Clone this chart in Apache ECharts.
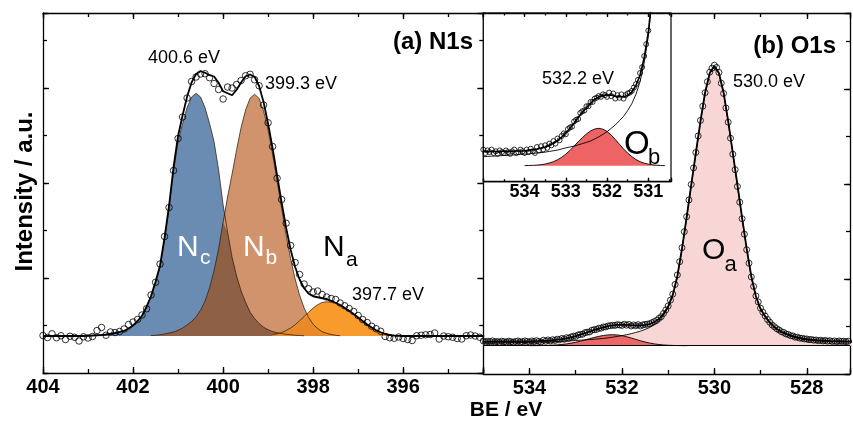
<!DOCTYPE html>
<html>
<head>
<meta charset="utf-8">
<title>XPS N1s / O1s</title>
<script src="https://cdn.jsdelivr.net/npm/echarts@6.0.0/dist/echarts.min.js"></script>
<style>
  html, body { margin: 0; padding: 0; background: #fff; }
  #chart { width: 853px; height: 425px; }
</style>
</head>
<body>
<div id="chart"></div>
<script>
// ---- (a) N1s : fitted components, 0.1 eV grid, intensity a.u. above baseline
var ncStart = 403.0;
var nc = [0.1, 0.2, 0.3, 0.4, 0.6, 0.9, 1.2, 1.6, 2.1, 2.9,
  4.2, 6.0, 8.1, 11.7, 15.8, 21.4, 27.7, 38.5, 50.9, 66.0,
  77.7, 85.0, 91.3, 95.6, 97.1, 95.6, 91.3, 85.0, 77.7, 66.5,
  52.5, 41.5, 31.5, 24.0, 18.0, 13.5, 9.5, 7.0, 5.0, 3.5,
  2.5, 1.8, 1.3, 1.0, 0.7, 0.5, 0.3, 0.2, 0.1];
var nbStart = 401.6;
var nb = [0.2, 0.3, 0.5, 0.8, 1.2, 1.6, 2.3, 3.2, 4.4, 5.8,
  7.7, 10.3, 14.0, 19.3, 26.1, 34.8, 45.4, 55.6, 64.8, 74.5,
  83.4, 90.4, 95.1, 96.7, 95.0, 90.0, 82.4, 72.7, 62.0, 51.0,
  40.4, 30.9, 22.8, 16.3, 11.2, 7.4, 4.7, 3.0, 1.7, 1.1,
  0.6, 0.3, 0.1];
var naStart = 398.9;
var na = [0.5, 0.9, 1.4, 2.2, 3.2, 4.5, 6.1, 7.8, 9.5, 11.2,
  12.5, 13.4, 13.7, 13.5, 13.0, 12.3, 11.3, 10.1, 8.8, 7.4,
  6.0, 4.6, 3.4, 2.3, 1.5, 0.8, 0.4, 0.15, 0.05];
var envNStart = 404.0;
var envN = [0, 0, 0, 0, 0, 0, 0, 0, 0, 0,
  0.1, 0.2, 0.3, 0.4, 0.6, 0.9, 1.2, 1.6, 2.1, 2.9,
  4.2, 6.0, 8.1, 11.7, 16.0, 21.7, 28.2, 39.3, 52.1, 67.6,
  80.0, 88.2, 95.7, 101.4, 104.8, 105.9, 105.3, 104.3, 103.8, 101.3,
  97.9, 97.1, 96.3, 98.5, 101.4, 103.9, 104.6, 103.7, 100.0, 93.5,
  84.9, 75.0, 64.2, 53.4, 43.3, 34.6, 27.6, 22.6, 19.1, 16.9,
  15.9, 15.5, 15.1, 14.8, 14.1, 13.3, 12.4, 11.3, 10.1, 8.8,
  7.4, 6.0, 4.6, 3.4, 2.3, 1.5, 0.8, 0.4, 0.15, 0.05,
  0, 0, 0, 0, 0, 0, 0, 0, 0, 0,
  0, 0, 0, 0, 0, 0, 0, 0, 0];
var dataNStart = 404.0;
var dataN = [0.2, -0.6, 0.9, -0.7, 0.1, -1.4, -0.1, -0.5, -2.0, -0.3,
  -0.8, -0.2, 2.2, 3.4, 0.3, 1.6, 1.4, 1.8, 2.8, 4.6,
  5.6, 6.6, 8.4, 10.9, 16.4, 21.5, 28.8, 39.8, 51.4, 66.2,
  79.0, 87.6, 95.2, 101.8, 103.6, 104.8, 104.9, 103.3, 101.0, 98.6,
  94.8, 99.6, 99.2, 100.6, 102.2, 104.1, 104.7, 102.5, 100.1, 92.4,
  85.3, 75.8, 63.1, 54.6, 45.1, 36.2, 29.4, 24.6, 20.8, 18.9,
  17.6, 18.0, 16.6, 15.6, 15.0, 14.6, 13.2, 12.1, 11.0, 9.8,
  8.2, 6.6, 5.4, 3.9, 2.9, 1.9, -0.2, -0.7, -0.9, -0.4,
  -1.0, -1.4, -1.8, 0.1, 0.3, 0.5, 0.6, 1.2, -1.2, 0.0,
  -0.3, -0.5, -1.0, -1.2, 0.1, 0.4, 0.0, -0.5];

// ---- (b) O1s : fitted components, 0.1 eV grid; measured points every 0.05 eV
var oaStart = 535.0;
var oa = [1.06, 1.09, 1.12, 1.14, 1.17, 1.20, 1.23, 1.26, 1.29, 1.32,
  1.35, 1.40, 1.45, 1.50, 1.55, 1.60, 1.68, 1.76, 1.84, 1.97,
  2.10, 2.20, 2.30, 2.45, 2.60, 2.75, 2.90, 3.15, 3.40, 3.70,
  4.0, 4.4, 4.8, 5.3, 5.8, 6.5, 7.3, 8.4, 9.9, 12.1,
  15.2, 20.0, 27.5, 38.5, 51.0, 64.0, 76.8, 89.5, 101.0, 108.8,
  111.6, 108.8, 101.0, 89.5, 76.8, 64.0, 51.0, 38.5, 27.5, 19.5,
  14.5, 11.5, 9.0, 7.2, 5.9, 4.9, 4.1, 3.5, 3.0, 2.6,
  2.3, 2.1, 1.95, 1.85, 1.75, 1.65, 1.6, 1.55, 1.5, 1.45,
  1.42];
var obStart = 534.0;
var ob = [0.01, 0.03, 0.04, 0.07, 0.12, 0.20, 0.32, 0.48, 0.70, 0.99,
  1.36, 1.80, 2.29, 2.82, 3.30, 3.74, 4.09, 4.32, 4.40, 4.30,
  4.03, 3.61, 3.09, 2.53, 1.98, 1.49, 1.07, 0.73, 0.48, 0.30,
  0.18, 0.11, 0.06, 0.03, 0.01];
var envOStart = 535.0;
var envO = [1.66, 1.67, 1.68, 1.68, 1.69, 1.70, 1.71, 1.72, 1.73, 1.74,
  1.76, 1.83, 1.89, 1.97, 2.07, 2.20, 2.40, 2.64, 2.94, 3.36,
  3.86, 4.40, 4.99, 5.67, 6.30, 6.84, 7.34, 7.82, 8.10, 8.30,
  8.33, 8.31, 8.19, 8.13, 8.08, 8.29, 8.67, 9.43, 10.68, 12.70,
  15.68, 20.4, 27.9, 38.8, 51.3, 64.3, 77.1, 89.8, 101.3, 109.1,
  111.9, 109.1, 101.3, 89.8, 77.1, 64.3, 51.3, 38.8, 27.8, 19.8,
  14.8, 11.8, 9.3, 7.5, 6.2, 5.2, 4.4, 3.8, 3.3, 2.9,
  2.6, 2.4, 2.2, 2.1, 2.0, 1.9, 1.85, 1.8, 1.75, 1.7,
  1.68];
var dataOStart = 535.0;
var dataO = [1.9, 1.5, 1.8, 1.6, 1.9, 1.5, 1.7, 1.4, 1.8, 1.6,
  1.5, 1.8, 1.6, 1.4, 1.7, 1.9, 1.5, 1.6, 1.9, 1.7,
  1.5, 1.9, 1.6, 2.0, 1.7, 1.5, 2.2, 1.8, 2.3, 1.9,
  2.4, 2.1, 2.6, 2.4, 2.9, 2.6, 3.2, 3.0, 3.5, 3.8,
  3.7, 4.3, 4.5, 4.6, 5.2, 5.4, 5.5, 6.2, 6.4, 6.5,
  7.0, 7.0, 7.5, 7.5, 7.9, 8.0, 8.2, 8.1, 8.4, 8.3,
  8.1, 8.6, 8.2, 8.5, 7.9, 8.3, 8.0, 8.4, 7.9, 8.3,
  8.5, 8.6, 8.8, 9.2, 9.6, 10.1, 10.9, 11.6, 12.9, 14.3,
  15.9, 18.2, 20.6, 24.5, 28.3, 33.6, 39.2, 45.6, 51.6, 58.3,
  64.5, 71.1, 77.3, 83.9, 90.1, 95.8, 101.2, 105.6, 109.4, 111.0,
  112.2, 111.3, 109.3, 105.0, 100.9, 95.1, 89.4, 83.0, 76.6, 70.4,
  63.7, 57.4, 50.8, 44.6, 38.4, 33.0, 27.5, 23.7, 19.9, 17.5,
  15.0, 13.4, 11.9, 10.5, 9.4, 8.3, 7.6, 6.8, 6.3, 5.6,
  5.3, 4.7, 4.5, 4.0, 3.9, 3.4, 3.4, 3.0, 3.0, 2.7,
  2.7, 2.4, 2.5, 2.2, 2.3, 2.0, 2.2, 1.9, 2.1, 1.8,
  2.0, 1.7, 1.9, 1.6, 1.9, 1.7, 1.8, 1.6, 1.8];

// tick labels
var ticksN = [404, 402, 400, 398, 396];
var ticksO = [534, 532, 530, 528];
var ticksInset = [534, 533, 532, 531];

var FONT = '"Liberation Sans", Arial, Helvetica, sans-serif';

function pts(start, step, vals) {
  return vals.map(function (v, i) {
    return [Math.round((start - i * step) * 100) / 100, v];
  });
}
// part shared by two components (drawn darker)
function lower(a, b) {
  var m = {};
  b.forEach(function (p) { m[p[0]] = p[1]; });
  return a.filter(function (p) { return p[0] in m; })
    .map(function (p) { return [p[0], Math.min(p[1], m[p[0]])]; });
}
function labelIn(list) {
  return function (v) {
    for (var i = 0; i < list.length; i++) {
      if (Math.abs(v - list[i]) < 1e-6) return String(list[i]);
    }
    return '';
  };
}

var ncP = pts(ncStart, 0.1, nc), nbP = pts(nbStart, 0.1, nb), naP = pts(naStart, 0.1, na);
var oaP = pts(oaStart, 0.1, oa), obP = pts(obStart, 0.1, ob);

// ---- axes helpers
var LINE = { color: '#000', width: 1.3 };
function xMain(g, min, max, pos, labels, len, fs, z) {
  return {
    type: 'value', gridIndex: g, min: min, max: max, inverse: true, position: pos, z: z || 0,
    axisLine: { show: true, onZero: false, lineStyle: LINE },
    axisTick: { show: true, inside: true, length: len, lineStyle: LINE },
    axisLabel: labels ? { show: true, formatter: labelIn(labels), color: '#000', fontFamily: FONT,
      fontWeight: 'bold', fontSize: fs, margin: fs > 18 ? 4 : 1 } : { show: false },
    splitLine: { show: false }
  };
}
function xMinor(g, max, pos, len, z) {
  return {
    type: 'value', gridIndex: g, min: 0, max: max, interval: 1, position: pos, z: z || 0,
    axisLine: { show: false, onZero: false },
    axisTick: { show: true, inside: true, length: len, lineStyle: LINE },
    axisLabel: { show: false }, splitLine: { show: false }
  };
}
function yHidden(g, min, max) {
  return { type: 'value', gridIndex: g, min: min, max: max, show: false,
    axisLine: { onZero: false }, splitLine: { show: false } };
}
function yTick(g, max, interval, pos, len, line) {
  return {
    type: 'value', gridIndex: g, min: 0, max: max, interval: interval, position: pos,
    axisLine: { show: line, onZero: false, lineStyle: LINE },
    axisTick: { show: true, inside: true, length: len, lineStyle: LINE },
    axisLabel: { show: false }, splitLine: { show: false }
  };
}

var xAxes = [
  xMain(0, 394.22, 404, 'bottom', ticksN, 6, 20),      // 0
  xMain(0, 394.22, 404, 'top', null, 6),               // 1
  xMinor(0, 9.784, 'bottom', 4),                       // 2
  xMinor(0, 9.784, 'top', 4),                          // 3
  xMain(1, 527.064, 535, 'bottom', ticksO, 6, 20),     // 4
  xMain(1, 527.064, 535, 'top', null, 6),              // 5
  xMinor(1, 7.936, 'bottom', 4),                       // 6
  xMinor(1, 7.936, 'top', 4),                          // 7
  xMain(2, 530.45, 535, 'bottom', ticksInset, 4, 18, 12), // 8
  xMain(2, 530.45, 535, 'top', null, 4, 18, 12),       // 9
  xMinor(2, 9.1, 'bottom', 2.5, 12),                   // 10
  xMinor(2, 9.1, 'top', 2.5, 12)                       // 11
];
var yAxes = [
  yHidden(0, -14.8, 129.2),                 // 0
  yTick(0, 3.79, 1, 'left', 6, true),       // 1
  yTick(0, 3.79, 0.5, 'left', 4, false),    // 2
  yTick(0, 3.79, 1, 'right', 6, true),      // 3
  yTick(0, 3.79, 0.5, 'right', 4, false),   // 4
  yHidden(1, -11.32, 133.08),               // 5
  yTick(1, 3.8, 1, 'right', 6, true),       // 6
  yTick(1, 3.8, 0.5, 'right', 4, false),    // 7
  yHidden(2, -1.88, 17.97)                  // 8
];

// ---- series helpers
function area(data, color, xi, yi, z) {
  return { type: 'line', xAxisIndex: xi, yAxisIndex: yi, data: data, symbol: 'none', silent: true,
    lineStyle: { opacity: 0 }, areaStyle: { color: color, opacity: 1 }, z: z };
}
function curve(data, width, color, xi, yi, z) {
  return { type: 'line', xAxisIndex: xi, yAxisIndex: yi, data: data, symbol: 'none', silent: true,
    lineStyle: { color: color, width: width }, z: z };
}
function dots(data, size, xi, yi, z) {
  return { type: 'scatter', xAxisIndex: xi, yAxisIndex: yi, data: data, symbol: 'circle',
    symbolSize: size, silent: true,
    itemStyle: { color: 'rgba(255,255,255,0)', borderColor: '#000', borderWidth: 1 }, z: z };
}
function baseline(s) {
  s.markLine = { silent: true, symbol: 'none', animation: false, label: { show: false },
    lineStyle: { color: '#000', width: 1.2, type: 'solid' }, data: [{ yAxis: 0 }] };
  return s;
}

var OUT = 'rgba(45,22,8,0.8)';
var series = [
  // (a) N1s
  area(ncP, '#6a8cb2', 0, 0, 2),
  area(nbP, '#d1936c', 0, 0, 2),
  area(lower(ncP, nbP), '#8e6147', 0, 0, 2),
  area(naP, '#f89a2c', 0, 0, 2),
  area(lower(naP, nbP), '#e8892a', 0, 0, 2),
  curve(ncP, 0.9, OUT, 0, 0, 3),
  curve(nbP, 0.9, OUT, 0, 0, 3),
  curve(naP, 0.9, OUT, 0, 0, 3),
  dots(pts(dataNStart, 0.1, dataN), 6.5, 0, 0, 4),
  curve(pts(envNStart, 0.1, envN), 1.8, '#000', 0, 0, 5),
  // (b) O1s
  area(oaP, '#f8d6d6', 4, 5, 2),
  area(obP, '#ee6666', 4, 5, 2),
  curve(oaP, 0.9, '#000', 4, 5, 3),
  curve(obP, 0.9, '#000', 4, 5, 3),
  dots(pts(dataOStart, 0.05, dataO), 6, 4, 5, 4),
  baseline(curve(pts(envOStart, 0.1, envO), 1.8, '#000', 4, 5, 5)),
  // inset
  area(obP, '#ee6464', 8, 8, 11),
  curve(oaP, 0.9, '#000', 8, 8, 12),
  curve(obP, 0.9, '#000', 8, 8, 12),
  dots(pts(dataOStart, 0.05, dataO), 5, 8, 8, 13),
  baseline(curve(pts(envOStart, 0.1, envO), 1.6, '#000', 8, 8, 14))
];

function txt(s, x, y, size, opts) {
  opts = opts || {};
  return { type: 'text', x: x, y: y, z: 30, rotation: opts.rot || 0, silent: true,
    style: { text: s, fill: opts.color || '#000', align: opts.align || 'left', verticalAlign: 'middle',
      font: (opts.bold ? 'bold ' : '') + size + 'px ' + FONT } };
}

var chart = echarts.init(document.getElementById('chart'), null, { renderer: 'canvas' });
chart.setOption({
  animation: false,
  backgroundColor: '#fff',
  grid: [
    { left: 43, top: 13, width: 440.3, height: 360, show: false },
    { left: 483.3, top: 13, width: 371, height: 361, show: false },
    { left: 483.3, top: 13, width: 187.7, height: 168.7, show: true, z: 10,
      backgroundColor: '#fff', borderColor: '#000', borderWidth: 1.2 }
  ],
  xAxis: xAxes,
  yAxis: yAxes,
  series: series,
  graphic: [
    txt('Intensity / a.u.', 25, 191.5, 24, { bold: true, align: 'center', rot: Math.PI / 2 }),
    txt('BE / eV', 506, 410, 21, { bold: true, align: 'center' }),
    txt('(a) N1s', 473, 42.5, 24, { bold: true, align: 'right' }),
    txt('(b) O1s', 836, 46, 24, { bold: true, align: 'right' }),
    txt('400.6 eV', 148, 58.5, 18),
    txt('399.3 eV', 265, 84.5, 18),
    txt('397.7 eV', 352, 295.5, 18),
    txt('532.2 eV', 542, 79.5, 18),
    txt('530.0 eV', 733, 82.5, 18),
    txt('N', 177, 247.5, 30, { color: '#fff' }),
    txt('c', 200, 258.5, 21, { color: '#fff' }),
    txt('N', 243, 247.5, 30, { color: '#fff' }),
    txt('b', 265.5, 258.5, 21, { color: '#fff' }),
    txt('N', 323, 248, 30),
    txt('a', 346, 260, 21),
    txt('O', 702, 251, 30),
    txt('a', 724.5, 264.5, 22),
    txt('O', 624, 144.5, 33),
    txt('b', 648, 157.5, 22)
  ]
});
</script>
</body>
</html>
